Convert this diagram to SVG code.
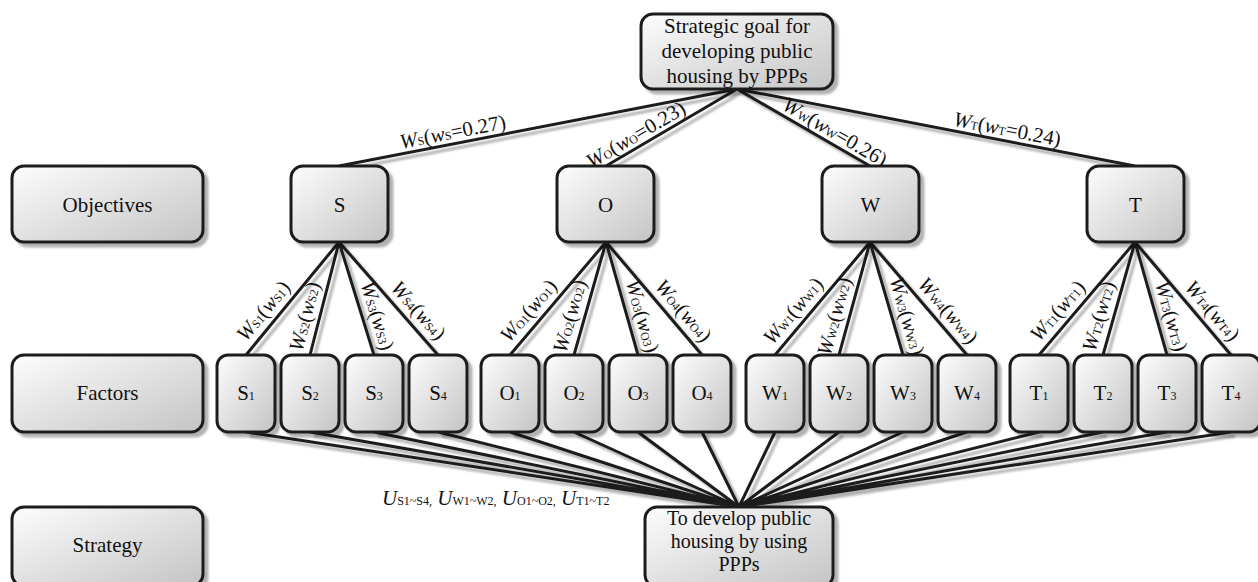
<svg xmlns="http://www.w3.org/2000/svg" width="1258" height="582" viewBox="0 0 1258 582" font-family="'Liberation Serif','Times New Roman',serif">
<defs>
<linearGradient id="g" x1="0" y1="0" x2="1" y2="1">
<stop offset="0" stop-color="#fdfdfd"/>
<stop offset="1" stop-color="#c4c4c4"/>
</linearGradient>
<filter id="sh" filterUnits="userSpaceOnUse" x="0" y="0" width="1258" height="582">
<feDropShadow dx="4" dy="4" stdDeviation="1.2" flood-color="#000" flood-opacity="0.3"/>
</filter>
</defs>
<style>
.box{fill:url(#g);stroke:#1e1e1e;stroke-width:3}
.ln{stroke:#1e1e1e;stroke-width:3;fill:none}
text{font-family:"Liberation Serif","Times New Roman",serif;font-size:21px;fill:#111}
.c{text-anchor:middle}
.i{font-style:italic}
.s{font-size:12px;font-style:normal}
.b{font-size:20px}
</style>
<rect width="1258" height="582" fill="#fff"/>
<g id="connectors" class="ln" filter="url(#sh)">
<path d="M737 89L339 166M737 89L606 166M737 89L870 166M737 89L1135 166"/>
<path d="M339 242L246 355M339 242L310 355M339 242L374 355M339 242L438 355"/>
<path d="M606 242L510 355M606 242L574 355M606 242L638 355M606 242L702 355"/>
<path d="M870 242L775 355M870 242L839 355M870 242L903 355M870 242L967 355"/>
<path d="M1135 242L1039 355M1135 242L1103 355M1135 242L1167 355M1135 242L1231 355"/>
<path d="M246 432L739 507M310 432L739 507M374 432L739 507M438 432L739 507M510 432L739 507M574 432L739 507M638 432L739 507M702 432L739 507M775 432L739 507M839 432L739 507M903 432L739 507M967 432L739 507M1039 432L739 507M1103 432L739 507M1167 432L739 507M1231 432L739 507"/>
</g>
<g id="edge-labels">
<text class="c" transform="translate(455,143.6) rotate(-10.95)" y="-5"><tspan class="i">W</tspan><tspan class="s">S</tspan>(<tspan class="i">w</tspan><tspan class="s">S</tspan>=0.27)</text>
<text class="c" transform="translate(641.7,145) rotate(-30.45)" y="-5"><tspan class="i">W</tspan><tspan class="s">O</tspan>(<tspan class="i">w</tspan><tspan class="s">O</tspan>=0.23)</text>
<text class="c" transform="translate(829,142.3) rotate(30.07)" y="-5"><tspan class="i">W</tspan><tspan class="s">W</tspan>(<tspan class="i">w</tspan><tspan class="s">W</tspan>=0.26)</text>
<text class="c" transform="translate(1005,140.8) rotate(10.95)" y="-5"><tspan class="i">W</tspan><tspan class="s">T</tspan>(<tspan class="i">w</tspan><tspan class="s">T</tspan>=0.24)</text>

<text class="c" transform="translate(274.8,320.3) rotate(-50.29)" y="-8"><tspan class="i">W</tspan><tspan class="s">S1</tspan>(<tspan class="i">w</tspan><tspan class="s">S1</tspan>)</text>
<text class="c" transform="translate(319,320.3) rotate(-75.48)" y="-8"><tspan class="i">W</tspan><tspan class="s">S2</tspan>(<tspan class="i">w</tspan><tspan class="s">S2</tspan>)</text>
<text class="c" transform="translate(363.2,320.3) rotate(72.65)" y="-8"><tspan class="i">W</tspan><tspan class="s">S3</tspan>(<tspan class="i">w</tspan><tspan class="s">S3</tspan>)</text>
<text class="c" transform="translate(407.3,320.3) rotate(48.52)" y="-8"><tspan class="i">W</tspan><tspan class="s">S4</tspan>(<tspan class="i">w</tspan><tspan class="s">S4</tspan>)</text>

<text class="c" transform="translate(539.8,320.3) rotate(-49.4)" y="-8"><tspan class="i">W</tspan><tspan class="s">O1</tspan>(<tspan class="i">w</tspan><tspan class="s">O1</tspan>)</text>
<text class="c" transform="translate(583.9,320.3) rotate(-74.05)" y="-8"><tspan class="i">W</tspan><tspan class="s">O2</tspan>(<tspan class="i">w</tspan><tspan class="s">O2</tspan>)</text>
<text class="c" transform="translate(628.1,320.3) rotate(74.05)" y="-8"><tspan class="i">W</tspan><tspan class="s">O3</tspan>(<tspan class="i">w</tspan><tspan class="s">O3</tspan>)</text>
<text class="c" transform="translate(672.2,320.3) rotate(49.4)" y="-8"><tspan class="i">W</tspan><tspan class="s">O4</tspan>(<tspan class="i">w</tspan><tspan class="s">O4</tspan>)</text>

<text class="c" transform="translate(804.4,320.3) rotate(-49.7)" y="-8"><tspan class="i">W</tspan><tspan class="s">W1</tspan>(<tspan class="i">w</tspan><tspan class="s">W1</tspan>)</text>
<text class="c" transform="translate(848.6,320.3) rotate(-74.53)" y="-8"><tspan class="i">W</tspan><tspan class="s">W2</tspan>(<tspan class="i">w</tspan><tspan class="s">W2</tspan>)</text>
<text class="c" transform="translate(892.8,320.3) rotate(73.58)" y="-8"><tspan class="i">W</tspan><tspan class="s">W3</tspan>(<tspan class="i">w</tspan><tspan class="s">W3</tspan>)</text>
<text class="c" transform="translate(936.9,320.3) rotate(49.11)" y="-8"><tspan class="i">W</tspan><tspan class="s">W4</tspan>(<tspan class="i">w</tspan><tspan class="s">W4</tspan>)</text>

<text class="c" transform="translate(1068.8,320.3) rotate(-49.4)" y="-8"><tspan class="i">W</tspan><tspan class="s">T1</tspan>(<tspan class="i">w</tspan><tspan class="s">T1</tspan>)</text>
<text class="c" transform="translate(1112.9,320.3) rotate(-74.05)" y="-8"><tspan class="i">W</tspan><tspan class="s">T2</tspan>(<tspan class="i">w</tspan><tspan class="s">T2</tspan>)</text>
<text class="c" transform="translate(1157.1,320.3) rotate(74.05)" y="-8"><tspan class="i">W</tspan><tspan class="s">T3</tspan>(<tspan class="i">w</tspan><tspan class="s">T3</tspan>)</text>
<text class="c" transform="translate(1201.2,320.3) rotate(49.4)" y="-8"><tspan class="i">W</tspan><tspan class="s">T4</tspan>(<tspan class="i">w</tspan><tspan class="s">T4</tspan>)</text>

<text x="382" y="505"><tspan class="i">U</tspan><tspan class="s">S1~S4,</tspan> <tspan class="i">U</tspan><tspan class="s">W1~W2,</tspan> <tspan class="i">U</tspan><tspan class="s">O1~O2,</tspan> <tspan class="i">U</tspan><tspan class="s">T1~T2</tspan></text>
</g>

<g id="goal"><rect class="box" x="641" y="14" width="192" height="75" rx="12" filter="url(#sh)"/><text class="c" x="737" y="33">Strategic goal for</text><text class="c" x="737" y="58">developing public</text><text class="c" x="737" y="83">housing by PPPs</text></g>

<g id="label-objectives"><rect class="box" x="12" y="166" width="191" height="76" rx="12" filter="url(#sh)"/><text class="c" x="107.5" y="212">Objectives</text></g>
<g id="label-factors"><rect class="box" x="12" y="355" width="191" height="77" rx="12" filter="url(#sh)"/><text class="c" x="107.5" y="400">Factors</text></g>
<g id="label-strategy"><rect class="box" x="12" y="507" width="191" height="79" rx="12" filter="url(#sh)"/><text class="c" x="107.5" y="552">Strategy</text></g>

<g id="obj-S"><rect class="box" x="291" y="166" width="97" height="76" rx="12" filter="url(#sh)"/><text class="c" x="339.5" y="212">S</text></g>
<g id="obj-O"><rect class="box" x="557" y="166" width="97" height="76" rx="12" filter="url(#sh)"/><text class="c" x="605.5" y="212">O</text></g>
<g id="obj-W"><rect class="box" x="822" y="166" width="97" height="76" rx="12" filter="url(#sh)"/><text class="c" x="870.5" y="212">W</text></g>
<g id="obj-T"><rect class="box" x="1087" y="166" width="97" height="76" rx="12" filter="url(#sh)"/><text class="c" x="1135.5" y="212">T</text></g>

<g id="f-S1"><rect class="box" x="217" y="355" width="58" height="77" rx="11" filter="url(#sh)"/><text class="c" x="246" y="400">S<tspan class="s">1</tspan></text></g>
<g id="f-S2"><rect class="box" x="281" y="355" width="58" height="77" rx="11" filter="url(#sh)"/><text class="c" x="310" y="400">S<tspan class="s">2</tspan></text></g>
<g id="f-S3"><rect class="box" x="345" y="355" width="58" height="77" rx="11" filter="url(#sh)"/><text class="c" x="374" y="400">S<tspan class="s">3</tspan></text></g>
<g id="f-S4"><rect class="box" x="409" y="355" width="58" height="77" rx="11" filter="url(#sh)"/><text class="c" x="438" y="400">S<tspan class="s">4</tspan></text></g>
<g id="f-O1"><rect class="box" x="481" y="355" width="58" height="77" rx="11" filter="url(#sh)"/><text class="c" x="510" y="400">O<tspan class="s">1</tspan></text></g>
<g id="f-O2"><rect class="box" x="545" y="355" width="58" height="77" rx="11" filter="url(#sh)"/><text class="c" x="574" y="400">O<tspan class="s">2</tspan></text></g>
<g id="f-O3"><rect class="box" x="609" y="355" width="58" height="77" rx="11" filter="url(#sh)"/><text class="c" x="638" y="400">O<tspan class="s">3</tspan></text></g>
<g id="f-O4"><rect class="box" x="673" y="355" width="58" height="77" rx="11" filter="url(#sh)"/><text class="c" x="702" y="400">O<tspan class="s">4</tspan></text></g>
<g id="f-W1"><rect class="box" x="746" y="355" width="58" height="77" rx="11" filter="url(#sh)"/><text class="c" x="775" y="400">W<tspan class="s">1</tspan></text></g>
<g id="f-W2"><rect class="box" x="810" y="355" width="58" height="77" rx="11" filter="url(#sh)"/><text class="c" x="839" y="400">W<tspan class="s">2</tspan></text></g>
<g id="f-W3"><rect class="box" x="874" y="355" width="58" height="77" rx="11" filter="url(#sh)"/><text class="c" x="903" y="400">W<tspan class="s">3</tspan></text></g>
<g id="f-W4"><rect class="box" x="938" y="355" width="58" height="77" rx="11" filter="url(#sh)"/><text class="c" x="967" y="400">W<tspan class="s">4</tspan></text></g>
<g id="f-T1"><rect class="box" x="1010" y="355" width="58" height="77" rx="11" filter="url(#sh)"/><text class="c" x="1039" y="400">T<tspan class="s">1</tspan></text></g>
<g id="f-T2"><rect class="box" x="1074" y="355" width="58" height="77" rx="11" filter="url(#sh)"/><text class="c" x="1103" y="400">T<tspan class="s">2</tspan></text></g>
<g id="f-T3"><rect class="box" x="1138" y="355" width="58" height="77" rx="11" filter="url(#sh)"/><text class="c" x="1167" y="400">T<tspan class="s">3</tspan></text></g>
<g id="f-T4"><rect class="box" x="1202" y="355" width="58" height="77" rx="11" filter="url(#sh)"/><text class="c" x="1231" y="400">T<tspan class="s">4</tspan></text></g>

<g id="strategy"><rect class="box" x="645" y="507" width="188" height="80" rx="12" filter="url(#sh)"/><text class="c b" x="739" y="525">To develop public</text><text class="c b" x="739" y="548">housing by using</text><text class="c b" x="739" y="571">PPPs</text></g>
</svg>
